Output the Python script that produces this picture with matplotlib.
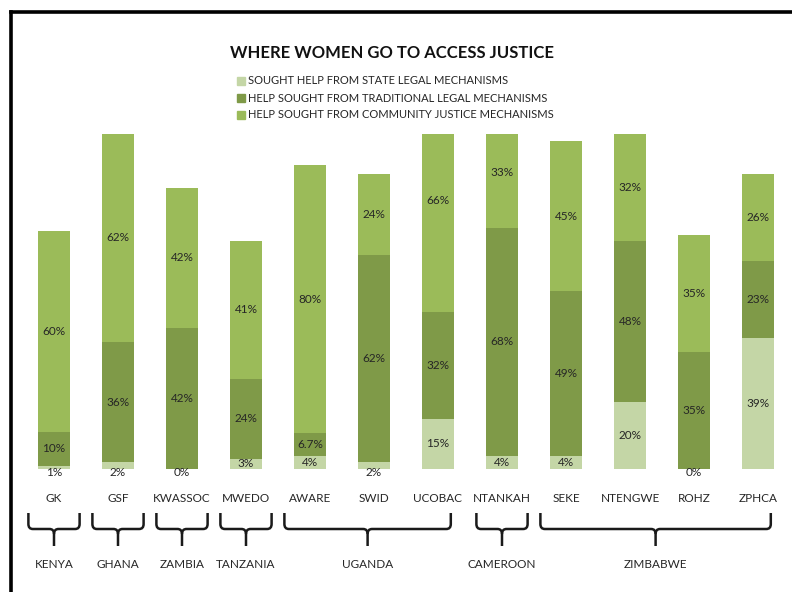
import matplotlib
matplotlib.use("Agg")
import matplotlib.pyplot as plt
import matplotlib.transforms as mtransforms
from matplotlib.path import Path
from matplotlib.patches import PathPatch, Rectangle
import numpy as np

plt.rcParams['font.family'] = ['Lato', 'DejaVu Sans']

categories = ["GK", "GSF", "KWASSOC", "MWEDO", "AWARE", "SWID", "UCOBAC",
              "NTANKAH", "SEKE", "NTENGWE", "ROHZ", "ZPHCA"]
state = [1, 2, 0, 3, 4, 2, 15, 4, 4, 20, 0, 39]
traditional = [10, 36, 42, 24, 6.7, 62, 32, 68, 49, 48, 35, 23]
community = [60, 62, 42, 41, 80, 24, 66, 33, 45, 32, 35, 26]
series_names = ["SOUGHT HELP FROM STATE LEGAL MECHANISMS",
                "HELP SOUGHT FROM TRADITIONAL LEGAL MECHANISMS",
                "HELP SOUGHT FROM COMMUNITY JUSTICE MECHANISMS"]
countries = ["KENYA", "GHANA", "ZAMBIA", "TANZANIA", "UGANDA", "CAMEROON", "ZIMBABWE"]
country_start = [0, 1, 2, 3, 4, 7, 8]
country_end = [0, 1, 2, 3, 6, 7, 11]

colors = ["#c4d6a6", "#7f9a48", "#9bbb59"]
W, H = 792, 592
fig = plt.figure(figsize=(W / 100, H / 100), dpi=100)
fig.patch.set_facecolor("white")

def fy(px):
    return 1 - px / H

ax = fig.add_axes([22 / W, fy(469), (790 - 22) / W, (469 - 134) / H])
x = np.arange(len(categories))
bottom = np.zeros(len(categories))
for vals, c in zip([state, traditional, community], colors):
    vals = np.array(vals, dtype=float)
    ax.bar(x, vals, 0.5, bottom=bottom, color=c, edgecolor="none", zorder=2)
    for xi, b, v in zip(x, bottom, vals):
        yc = b + v / 2
        if v < 2.5:
            yc = -1.0
        ax.text(xi, yc, f"{v:g}%", ha="center", va="center", fontsize=8.5,
                color="#262626", clip_on=False, zorder=3)
    bottom += vals
ax.set_xlim(-0.5, len(categories) - 0.5)
ax.set_ylim(0, 100)
ax.axis("off")

trans = mtransforms.blended_transform_factory(ax.transData, fig.transFigure)
for xi, cat in zip(x, categories):
    fig.text(xi, fy(499), cat, transform=trans, ha="center", va="center",
             fontsize=8.5, color="#262626")

# brackets
ytop, yh, ybot = fy(513), fy(529), fy(546)
rx = 0.07
ry = 5 / H
for name, s, e in zip(countries, country_start, country_end):
    if s == e:
        x0, x1 = s - 0.4, e + 0.4
    else:
        x0, x1 = s - 0.4, e + 0.2
    xm = (x0 + x1) / 2
    verts = [(x0, ytop), (x0, yh + ry), (x0, yh), (x0 + rx, yh),
             (xm - rx, yh), (xm, yh), (xm, yh - ry), (xm, ybot)]
    codes = [Path.MOVETO, Path.LINETO, Path.CURVE3, Path.CURVE3,
             Path.LINETO, Path.CURVE3, Path.CURVE3, Path.LINETO]
    verts2 = [(x1, ytop), (x1, yh + ry), (x1, yh), (x1 - rx, yh),
              (xm + rx, yh), (xm, yh), (xm, yh - ry)]
    codes2 = [Path.MOVETO, Path.LINETO, Path.CURVE3, Path.CURVE3,
              Path.LINETO, Path.CURVE3, Path.CURVE3]
    for v, cd in [(verts, codes), (verts2, codes2)]:
        fig.add_artist(PathPatch(Path(v, cd), transform=trans, fill=False,
                                 edgecolor="#1a1a1a", lw=1.8, capstyle="butt"))
    fig.text(xm, fy(564), name, transform=trans, ha="center", va="center",
             fontsize=8.5, color="#262626")

# title and legend
fig.text(392 / W, fy(53), "WHERE WOMEN GO TO ACCESS JUSTICE", ha="center",
         va="center", fontsize=12, fontweight="bold", color="#111111")
for i, (name, c) in enumerate(zip(series_names, colors)):
    yc = 81 + 17 * i
    fig.add_artist(Rectangle((237 / W, fy(yc + 4)), 8 / W, 8 / H,
                             transform=fig.transFigure, color=c))
    fig.text(248 / W, fy(yc), name, ha="left", va="center", fontsize=8,
             color="#262626")

# frame lines (top and left)
fig.add_artist(plt.Line2D([10.5 / W, 1], [fy(12), fy(12)], transform=fig.transFigure,
                          color="black", lw=2.6))
fig.add_artist(plt.Line2D([10.5 / W, 10.5 / W], [0, fy(12)], transform=fig.transFigure,
                          color="black", lw=2.6))

fig.savefig("out.png", dpi=100)
